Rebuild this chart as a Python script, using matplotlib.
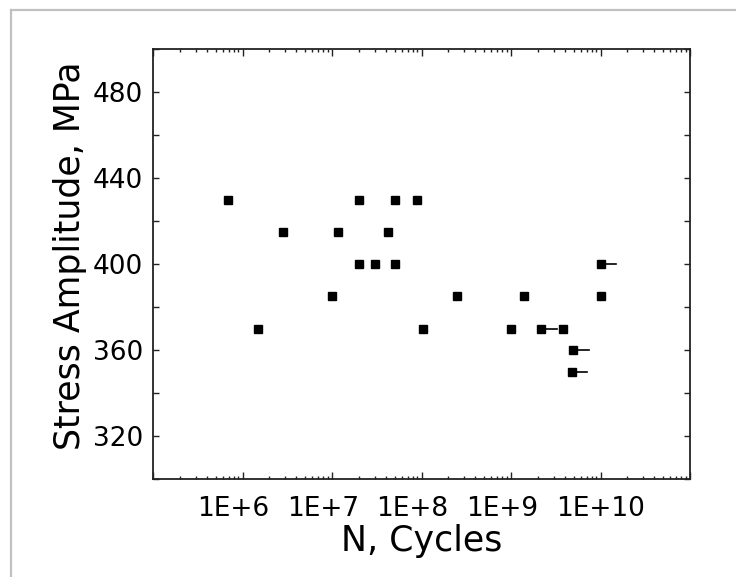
import matplotlib
matplotlib.use("Agg")

import matplotlib.pyplot as plt
import matplotlib.transforms as mtransforms
from matplotlib.ticker import LogLocator, MultipleLocator, FuncFormatter, NullFormatter
from matplotlib.lines import Line2D

# Fatigue data
cycles = [6.8e5, 1.5e6, 2.8e6, 1.0e7, 1.18e7, 2.0e7, 2.0e7, 3.0e7, 4.2e7, 5.0e7, 5.0e7,
          9.0e7, 1.05e8, 2.5e8, 1.0e9, 1.38e9, 2.17e9, 3.8e9, 4.95e9, 4.75e9, 1.0e10, 1.0e10]
stress = [430, 370, 415, 385, 415, 430, 400, 400, 415, 430, 400,
          430, 370, 385, 370, 385, 370, 370, 360, 350, 400, 385]
runout = [False, False, False, False, False, False, False, False, False, False, False,
          False, False, False, False, False, True, False, True, True, True, False]

x_ticks = [1e5, 1e6, 1e7, 1e8, 1e9, 1e10, 1e11]
x_tick_labels = ["", "1E+6", "1E+7", "1E+8", "1E+9", "1E+10", ""]

fig = plt.figure(figsize=(7.36, 5.77), dpi=100)
ax = fig.add_axes([153 / 736, 98 / 577, 537 / 736, 430 / 577])

# run-out markers: short line to the right of the point
for n, s, r in zip(cycles, stress, runout):
    if r:
        ax.plot([n, n * 1.5], [s, s], color="black", lw=1.2, zorder=2)

ax.plot(cycles, stress, ls="none", marker="s", ms=6.3, color="black", zorder=3)

ax.set_xscale("log")
ax.set_xlim(1e5, 1e11)
ax.set_ylim(300, 500)

ax.set_xticks(x_ticks)
ax.set_xticklabels(x_tick_labels)
ax.xaxis.set_minor_locator(LogLocator(base=10, subs=range(2, 10), numticks=20))
ax.xaxis.set_minor_formatter(NullFormatter())

ax.yaxis.set_major_locator(MultipleLocator(20))
ax.yaxis.set_major_formatter(FuncFormatter(lambda v, p: "%d" % v if int(round(v)) % 40 == 0 else ""))

ax.tick_params(axis="both", which="both", direction="in", top=True, right=True,
               color="#222222", width=1.0)
ax.tick_params(axis="x", which="major", length=5, pad=12, labelsize=19)
ax.tick_params(axis="x", which="minor", length=2.5)
ax.tick_params(axis="y", which="major", length=4.5, pad=7, labelsize=19)

for sp in ax.spines.values():
    sp.set_linewidth(1.3)
    sp.set_color("#222222")

ax.set_xlabel("N, Cycles", fontsize=25, labelpad=2)
ax.set_ylabel("Stress Amplitude, MPa", fontsize=25)
ax.yaxis.set_label_coords(-0.122, 0.52)

# labels in the original sit a little left of their ticks
shift = mtransforms.ScaledTranslation(-9 / 100, 0, fig.dpi_scale_trans)
for tick, lab in zip(ax.xaxis.get_major_ticks(), x_tick_labels):
    if lab in ("1E+6", "1E+7", "1E+8", "1E+9"):
        tick.label1.set_transform(tick.label1.get_transform() + shift)

# light frame around the picture
fig.add_artist(Line2D([11 / 736, 1.0], [1 - 10 / 577, 1 - 10 / 577], color="#c0c0c0", lw=1.6))
fig.add_artist(Line2D([11 / 736, 11 / 736], [0.0, 1 - 10 / 577], color="#c0c0c0", lw=1.6))

fig.savefig("out.png", dpi=100)
